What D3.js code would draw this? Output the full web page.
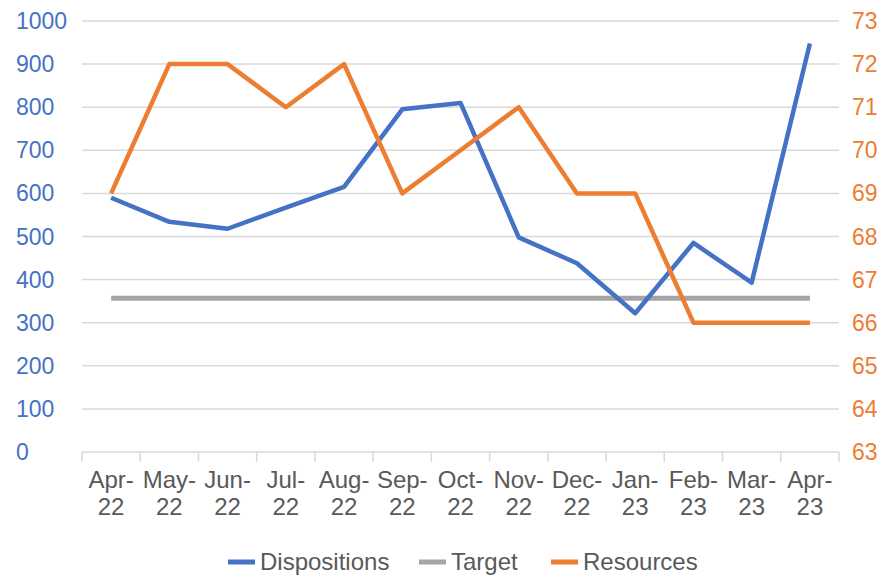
<!DOCTYPE html>
<html>
<head>
<meta charset="utf-8">
<script src="https://cdn.jsdelivr.net/npm/d3@7"></script>
<style>
  body { margin: 0; background: #fff; }
  svg text { font-family: "Liberation Sans", Arial, sans-serif; }
</style>
</head>
<body>
<div id="chart"></div>
<script>
// Chart data
const months = ['Apr-22', 'May-22', 'Jun-22', 'Jul-22', 'Aug-22', 'Sep-22', 'Oct-22',
    'Nov-22', 'Dec-22', 'Jan-23', 'Feb-23', 'Mar-23', 'Apr-23'];
const dispositions = [590, 534, 518, 567, 615, 795, 810, 498, 438, 322, 485, 393, 948];
const target = [357, 357, 357, 357, 357, 357, 357, 357, 357, 357, 357, 357, 357];
const resources = [69, 72, 72, 71, 72, 69, 70, 71, 69, 69, 66, 66, 66];
const leftTicks = [0, 100, 200, 300, 400, 500, 600, 700, 800, 900, 1000];
const rightTicks = [63, 64, 65, 66, 67, 68, 69, 70, 71, 72, 73];

const width = 894, height = 576;
const margin = { top: 21, right: 55, bottom: 124, left: 82 };
const innerW = width - margin.left - margin.right;
const innerH = height - margin.top - margin.bottom;

const colors = { dispositions: '#4472C4', target: '#A5A5A5', resources: '#ED7D31' };

const svg = d3.select('#chart')
    .append('svg')
    .attr('width', width)
    .attr('height', height);

const g = svg.append('g')
    .attr('transform', `translate(${margin.left},${margin.top})`);

// Scales
const x = d3.scaleBand().domain(months).range([0, innerW]);
const yLeft = d3.scaleLinear().domain([0, 1000]).range([innerH, 0]);
const yRight = d3.scaleLinear().domain([63, 73]).range([innerH, 0]);

// Grid lines
g.append('g')
    .selectAll('line')
    .data(leftTicks.slice(1))
    .enter()
    .append('line')
    .attr('x1', 0)
    .attr('x2', innerW)
    .attr('y1', d => yLeft(d))
    .attr('y2', d => yLeft(d))
    .attr('stroke', '#d9d9d9')
    .attr('stroke-width', 1.5);

// X axis with ticks at category boundaries
const boundaries = months.map(m => x(m)).concat([innerW]);
const xAxis = g.append('g').attr('transform', `translate(0,${innerH})`);
xAxis.append('line')
    .attr('x1', 0).attr('x2', innerW)
    .attr('stroke', '#d9d9d9').attr('stroke-width', 1.5);
xAxis.selectAll('.tick')
    .data(boundaries)
    .enter()
    .append('line')
    .attr('x1', d => d).attr('x2', d => d)
    .attr('y1', 0).attr('y2', 10)
    .attr('stroke', '#d9d9d9').attr('stroke-width', 1.5);

const xLabels = xAxis.selectAll('.xlabel')
    .data(months)
    .enter()
    .append('text')
    .attr('text-anchor', 'middle')
    .attr('fill', '#595959')
    .style('font-size', '24px');
xLabels.append('tspan')
    .attr('x', d => x(d) + x.bandwidth() / 2)
    .attr('y', 36)
    .text(d => d.split('-')[0] + '-');
xLabels.append('tspan')
    .attr('x', d => x(d) + x.bandwidth() / 2)
    .attr('y', 63)
    .text(d => d.split('-')[1]);

// Left axis labels
g.append('g')
    .selectAll('text')
    .data(leftTicks)
    .enter()
    .append('text')
    .attr('x', 16 - margin.left)
    .attr('y', d => yLeft(d))
    .attr('dy', '0.35em')
    .attr('fill', colors.dispositions)
    .style('font-size', '23px')
    .text(d => d);

// Right axis labels
g.append('g')
    .selectAll('text')
    .data(rightTicks)
    .enter()
    .append('text')
    .attr('x', innerW + 13)
    .attr('y', d => yRight(d))
    .attr('dy', '0.35em')
    .attr('fill', colors.resources)
    .style('font-size', '23px')
    .text(d => d);

const cx = d => x(d) + x.bandwidth() / 2;

// Lines
const lineLeft = d3.line()
    .x((d, i) => cx(months[i]))
    .y(d => yLeft(d));
const lineRight = d3.line()
    .x((d, i) => cx(months[i]))
    .y(d => yRight(d));

g.append('path')
    .datum(target)
    .attr('d', lineLeft)
    .attr('fill', 'none')
    .attr('stroke', colors.target)
    .attr('stroke-width', 5);

g.append('path')
    .datum(dispositions)
    .attr('d', lineLeft)
    .attr('fill', 'none')
    .attr('stroke', colors.dispositions)
    .attr('stroke-width', 4.5)
    .attr('stroke-linejoin', 'round');

g.append('path')
    .datum(resources)
    .attr('d', lineRight)
    .attr('fill', 'none')
    .attr('stroke', colors.resources)
    .attr('stroke-width', 4.5)
    .attr('stroke-linejoin', 'round');

// Legend
const legendItems = [
    { name: 'Dispositions', color: colors.dispositions, x: 228 },
    { name: 'Target', color: colors.target, x: 419 },
    { name: 'Resources', color: colors.resources, x: 551 }
];
const legend = svg.append('g');
const item = legend.selectAll('g')
    .data(legendItems)
    .enter()
    .append('g')
    .attr('transform', d => `translate(${d.x},562)`);
item.append('line')
    .attr('x1', 0).attr('x2', 27)
    .attr('stroke', d => d.color)
    .attr('stroke-width', 5);
item.append('text')
    .attr('x', 32)
    .attr('y', 8)
    .attr('fill', '#595959')
    .style('font-size', '24px')
    .text(d => d.name);
</script>
</body>
</html>
